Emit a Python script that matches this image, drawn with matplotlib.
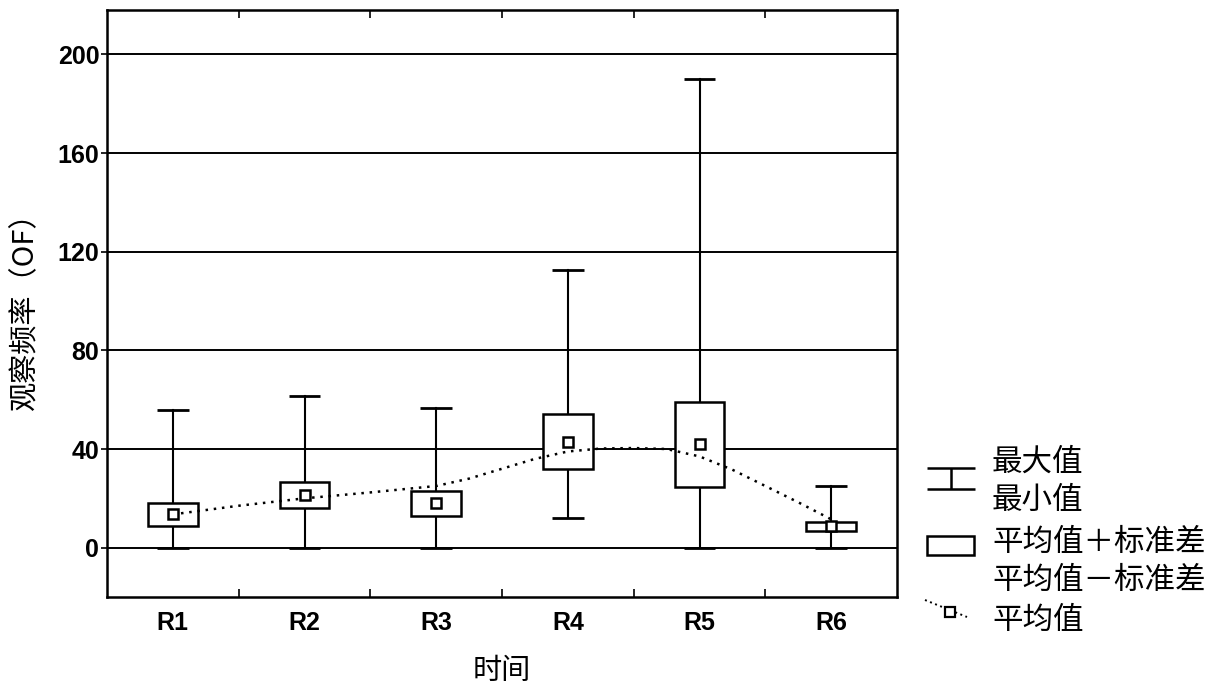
import numpy as np
import matplotlib
matplotlib.use("Agg")
import matplotlib.pyplot as plt
from matplotlib.patches import Rectangle

categories = ["R1", "R2", "R3", "R4", "R5", "R6"]
max_vals = [56, 61.5, 56.5, 112.5, 190, 25]
min_vals = [0, 0, 0, 12, 0, 0]
sd_upper = [18.2, 26.7, 23, 54.3, 59, 10.4]
sd_lower = [8.6, 16.2, 13, 32, 24.4, 6.8]
mean_vals = [13.8, 21.4, 18.2, 43, 42, 8.8]
# smoothed trend line of the means (category positions)
trend_x = [0, 0.5, 1, 1.5, 2, 2.25, 2.5, 2.75, 3, 3.25, 3.5, 3.75, 4, 4.25, 4.5, 4.75, 5]
trend_y = [13.5, 17, 20, 22.4, 25, 28, 32, 36, 39, 40.2, 40.4, 40, 37, 31.6, 25, 18.4, 11.5]
y_ticks = [0, 40, 80, 120, 160, 200]

cjk = ["Noto Sans CJK SC", "DejaVu Sans"]
num_font = dict(family="Liberation Sans", weight="bold", size=18)

fig = plt.figure(figsize=(12.26, 6.87), dpi=100)
W, H = 1226, 687
ax = fig.add_axes([107 / W, 1 - 597 / H, (897 - 107) / W, (597 - 10) / H])

x = np.arange(len(categories))
ax.set_xlim(-0.5, len(categories) - 0.5)
ax.set_ylim(-20, 218)

for yv in y_ticks:
    ax.axhline(yv, color="black", lw=1.4, zorder=1)

box_w = 0.375
cap_w = 0.24
for xi, mx, mn, up, lo in zip(x, max_vals, min_vals, sd_upper, sd_lower):
    ax.plot([xi, xi], [up, mx], color="black", lw=1.5, zorder=2)
    ax.plot([xi, xi], [mn, lo], color="black", lw=1.5, zorder=2)
    ax.plot([xi - cap_w / 2, xi + cap_w / 2], [mx, mx], color="black", lw=2.0, zorder=2,
            solid_capstyle="butt")
    ax.plot([xi - cap_w / 2, xi + cap_w / 2], [mn, mn], color="black", lw=2.0, zorder=2,
            solid_capstyle="butt")
    ax.add_patch(Rectangle((xi - box_w / 2, lo), box_w, up - lo, facecolor="white",
                           edgecolor="black", lw=1.8, zorder=3))

ax.plot(trend_x, trend_y, color="black", lw=1.8, ls=(0, (1, 2.3)), zorder=4)
ax.plot(x, mean_vals, ls="none", marker="s", ms=7.5, mfc="white", mec="black", mew=1.8, zorder=5)

ax.set_yticks(y_ticks)
ax.set_yticklabels([str(v) for v in y_ticks], fontdict=num_font)
ax.set_xticks(x)
ax.set_xticklabels(categories, fontdict=num_font)
ax.set_xticks(np.arange(0.5, len(categories) - 0.5, 1), minor=True)
ax.tick_params(axis="x", which="major", length=0, pad=10)
ax.tick_params(axis="x", which="minor", direction="in", length=6, width=1.2, top=True, bottom=True)
ax.tick_params(axis="y", which="major", direction="out", length=4, width=1.2, pad=1.5)
for s in ax.spines.values():
    s.set_linewidth(1.8)

ax.set_ylabel("观察频率（OF）", family=cjk, fontsize=21)
ax.yaxis.set_label_coords((40 - 107) / 790, 0.5)
ax.set_xlabel("时间", family=cjk, fontsize=21)
ax.xaxis.set_label_coords(0.5, (597 - 656) / 587)

# legend drawn in pixel coordinates
lax = fig.add_axes([0, 0, 1, 1], facecolor="none")
lax.set_xlim(0, W)
lax.set_ylim(H, 0)
lax.axis("off")
k = dict(color="black", lw=1.8, solid_capstyle="butt")
lax.plot([927, 975], [468, 468], **k)
lax.plot([951, 951], [468, 489], **k)
lax.plot([927, 975], [489, 489], **k)
lax.add_patch(Rectangle((927, 536), 47, 19, facecolor="white", edgecolor="black", lw=1.8))
lax.plot([925, 967], [600, 617], color="black", lw=1.4, ls=(0, (1, 1.8)))
lax.plot([950], [612], ls="none", marker="s", ms=6.5, mfc="white", mec="black", mew=1.6)
labels = ["最大值", "最小值", "平均值＋标准差", "平均值－标准差", "平均值"]
ys = [462, 500, 542, 580, 620]
for t, yy in zip(labels, ys):
    lax.text(992, yy, t, family=cjk, fontsize=22, va="center", ha="left")

fig.savefig("out.png", dpi=100)
